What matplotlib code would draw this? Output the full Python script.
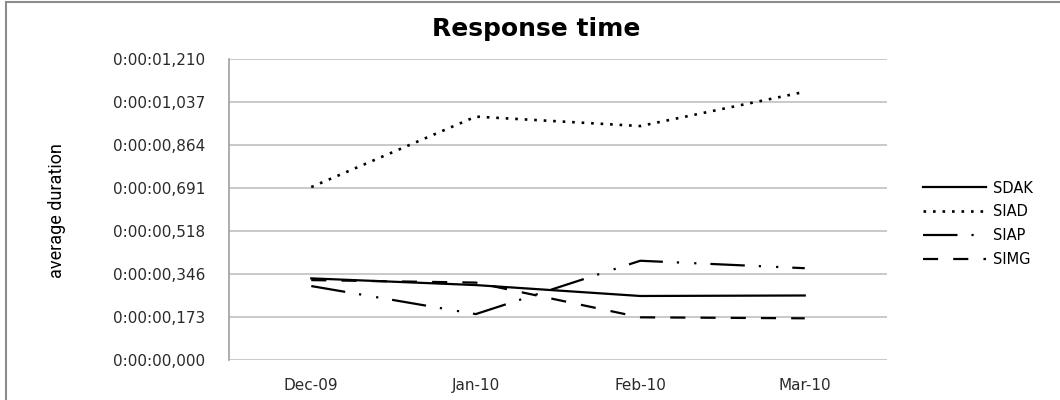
import matplotlib
matplotlib.use('Agg')
import matplotlib.pyplot as plt
from matplotlib.lines import Line2D

plt.rcParams['font.family'] = 'DejaVu Sans'

# monthly average response time per service, in seconds
months = ['Dec-09', 'Jan-10', 'Feb-10', 'Mar-10']
sdak = [0.327, 0.300, 0.256, 0.258]
siad = [0.695, 0.979, 0.941, 1.079]
siap = [0.296, 0.183, 0.398, 0.368]
simg = [0.320, 0.310, 0.170, 0.166]

ytick_vals = [0.0, 0.173, 0.346, 0.518, 0.691, 0.864, 1.037, 1.210]
ytick_labels = ['0:00:00,000', '0:00:00,173', '0:00:00,346', '0:00:00,518',
                '0:00:00,691', '0:00:00,864', '0:00:01,037', '0:00:01,210']

fig = plt.figure(figsize=(10.6, 4), dpi=100)
ax = fig.add_axes([229/1060, 40.5/400, 658/1060, 300.2/400])

x = range(len(months))
lw = 1.6
ax.plot(x, sdak, color='black', lw=lw, label='SDAK')
ax.plot(x, siad, color='black', lw=lw + 0.3, linestyle=(0, (1, 2.6)), label='SIAD')
ax.plot(x, siap, color='black', lw=lw, linestyle=(0, (15.5, 6.3, 1, 6.8, 1, 6.3)), label='SIAP')
ax.plot(x, simg, color='black', lw=lw, linestyle=(0, (6.8, 6.8)), label='SIMG')

ax.set_xlim(-0.5, 3.5)
ax.set_ylim(0, 1.21)
ax.set_xticks(list(x))
ax.set_xticklabels(months)
ax.set_yticks(ytick_vals)
ax.set_yticklabels(ytick_labels)
ax.tick_params(axis='both', length=0, labelsize=11, colors='#2a2a2a')
ax.tick_params(axis='y', pad=17)
ax.tick_params(axis='x', pad=13)
ax.yaxis.grid(True, color='#c0c0c0', lw=1.2)
ax.set_axisbelow(True)
for side in ['top', 'right', 'bottom']:
    ax.spines[side].set_visible(False)
ax.spines['left'].set_color('#a0a0a0')
ax.spines['left'].set_linewidth(1.2)

fig.text(536/1060, 1 - 29/400, 'Response time', ha='center', va='center',
         fontsize=18, fontweight='bold')
fig.text(57/1060, 1 - 211/400, 'average duration', rotation=90, ha='center', va='center',
         fontsize=13, family=['Roboto', 'DejaVu Sans'])

ax.legend(loc='center left', bbox_to_anchor=(923/1060, 1 - 223.7/400),
          bbox_transform=fig.transFigure, frameon=False, borderpad=0, borderaxespad=0,
          handlelength=4.3, handletextpad=0.5, labelspacing=0.6, fontsize=10.5)

# chart border (left and top edges only visible)
fig.add_artist(Line2D([6/1060, 6/1060], [0, 1 - 1.5/400], color='#8c8c8c', lw=1.5,
                      transform=fig.transFigure))
fig.add_artist(Line2D([6/1060, 1], [1 - 1.5/400, 1 - 1.5/400], color='#8c8c8c', lw=1.5,
                      transform=fig.transFigure))

fig.savefig('out.png', dpi=100)
